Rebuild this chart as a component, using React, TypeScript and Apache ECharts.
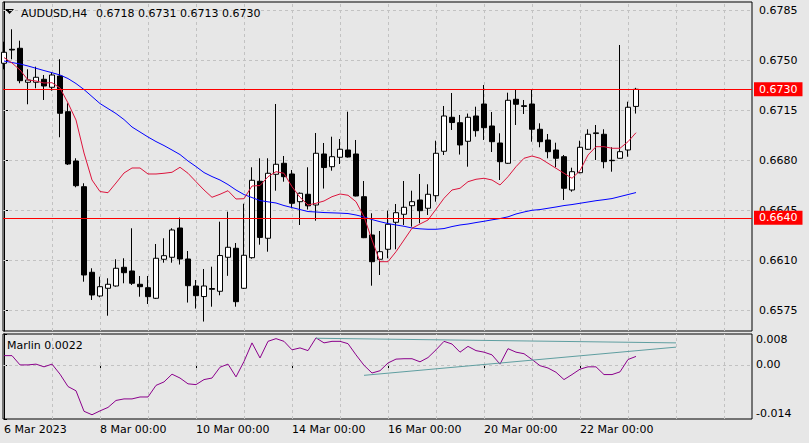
import React, { useEffect, useRef } from "react";
import * as echarts from "echarts";

// ---- data (AUDUSD H4, 6 Mar 2023 00:00 .. 23 Mar 2023 04:00), bar index = position ----
const opens = [
  0.67482, 0.6758, 0.67587, 0.67349, 0.67349, 0.6737, 0.67314, 0.67393, 0.67143, 0.66798,
  0.66618, 0.66019, 0.65853, 0.65907, 0.65923, 0.66054, 0.66028, 0.65935, 0.65911, 0.65837,
  0.6611, 0.66124, 0.66329, 0.66112, 0.65923, 0.65849, 0.65905, 0.65886, 0.66124, 0.66187,
  0.65907, 0.66121, 0.66656, 0.66257, 0.66705, 0.66782, 0.66707, 0.66513, 0.66565, 0.6649,
  0.66847, 0.66758, 0.66824, 0.66875, 0.66847, 0.66548, 0.6628, 0.6611, 0.6618, 0.66369,
  0.66425, 0.66485, 0.66525, 0.66467, 0.66555, 0.66866, 0.67104, 0.67066, 0.66936, 0.67113,
  0.67197, 0.67043, 0.66924, 0.66782, 0.6723, 0.67185, 0.67197, 0.6702, 0.66945, 0.66875,
  0.66828, 0.66595, 0.66716, 0.6688, 0.6699, 0.66985, 0.66803, 0.66817, 0.66875, 0.6718,
];
const highs = [
  0.67633, 0.6772, 0.6764, 0.6744, 0.67458, 0.674, 0.67416, 0.6751, 0.67202, 0.66817,
  0.66642, 0.66047, 0.65988, 0.65977, 0.6611, 0.66117, 0.66327, 0.65993, 0.65993, 0.66217,
  0.66257, 0.66327, 0.66402, 0.66168, 0.65965, 0.66042, 0.66058, 0.66373, 0.66443, 0.66224,
  0.66499, 0.66754, 0.66817, 0.66817, 0.67197, 0.66833, 0.66735, 0.66578, 0.66754, 0.66994,
  0.66924, 0.66968, 0.66952, 0.67143, 0.66945, 0.66658, 0.66432, 0.66308, 0.6645, 0.66497,
  0.66658, 0.6659, 0.66707, 0.66635, 0.6694, 0.67183, 0.67274, 0.6712, 0.6713, 0.67178,
  0.6733, 0.67141, 0.66992, 0.67276, 0.67295, 0.67225, 0.673, 0.67062, 0.66987, 0.66926,
  0.6684, 0.66751, 0.6694, 0.6702, 0.6705, 0.6702, 0.66894, 0.6761, 0.67213, 0.6731,
];
const lows = [
  0.6744, 0.6751, 0.67342, 0.67195, 0.67307, 0.67225, 0.6729, 0.66964, 0.6677, 0.66614,
  0.65953, 0.65825, 0.65844, 0.65715, 0.65918, 0.65942, 0.6593, 0.65848, 0.65797, 0.65832,
  0.66086, 0.66086, 0.66073, 0.65807, 0.65765, 0.65674, 0.65778, 0.65858, 0.65994, 0.65778,
  0.65902, 0.66114, 0.66212, 0.66163, 0.6659, 0.66653, 0.66467, 0.6635, 0.66458, 0.6638,
  0.66605, 0.6673, 0.66777, 0.66822, 0.6655, 0.66258, 0.65925, 0.66, 0.66117, 0.6618,
  0.6635, 0.66338, 0.66362, 0.6642, 0.66513, 0.6684, 0.67015, 0.66843, 0.66758, 0.66968,
  0.66945, 0.66861, 0.66665, 0.66778, 0.6705, 0.67127, 0.66933, 0.66894, 0.66817, 0.66754,
  0.66525, 0.66583, 0.66712, 0.66875, 0.66805, 0.66747, 0.66723, 0.66815, 0.66828, 0.6713,
];
const closes = [
  0.67559, 0.67575, 0.6736, 0.67365, 0.67384, 0.67323, 0.674, 0.67132, 0.66777, 0.66625,
  0.66, 0.6586, 0.65918, 0.65935, 0.66047, 0.66016, 0.65942, 0.65918, 0.65848, 0.66117,
  0.66135, 0.66315, 0.66112, 0.65925, 0.65855, 0.65923, 0.659, 0.66136, 0.66194, 0.65813,
  0.66138, 0.66663, 0.66263, 0.66712, 0.66775, 0.66688, 0.66502, 0.66572, 0.66484, 0.66852,
  0.66752, 0.66828, 0.6688, 0.66826, 0.66553, 0.66261, 0.66093, 0.66163, 0.66355, 0.66436,
  0.66474, 0.66513, 0.6645, 0.66565, 0.66852, 0.67113, 0.67067, 0.6691, 0.67104, 0.6701,
  0.67031, 0.66933, 0.66793, 0.67223, 0.67195, 0.6718, 0.6702, 0.66933, 0.66863, 0.66817,
  0.66607, 0.66723, 0.66894, 0.66985, 0.66995, 0.66793, 0.668, 0.66863, 0.67174, 0.673,
];
const fastMA = [
  0.67522, 0.67484, 0.67435, 0.67365, 0.67358, 0.67344, 0.67346, 0.67309, 0.67204, 0.67085,
  0.66854, 0.66665, 0.66584, 0.66576, 0.66644, 0.66714, 0.66749, 0.66749, 0.66707, 0.66707,
  0.66712, 0.66719, 0.66754, 0.66712, 0.66653, 0.66595, 0.66544, 0.66565, 0.6659, 0.66532,
  0.66534, 0.66623, 0.66626, 0.66688, 0.66723, 0.66712, 0.66618, 0.66544, 0.6649, 0.66502,
  0.66518, 0.66548, 0.66567, 0.66558, 0.66513, 0.66408, 0.66245, 0.66093, 0.66093, 0.66163,
  0.66245, 0.66327, 0.66357, 0.66385, 0.6646, 0.66537, 0.66595, 0.66607, 0.66653, 0.6667,
  0.66677, 0.66665, 0.6663, 0.66688, 0.66758, 0.66817, 0.66833, 0.66817, 0.66782, 0.66747,
  0.66712, 0.66677, 0.6673, 0.6684, 0.66898, 0.66898, 0.66887, 0.66887, 0.66933, 0.66996,
];
const slowMA = [
  0.67498, 0.67487, 0.67477, 0.67463, 0.67447, 0.67431, 0.67416, 0.674, 0.67375, 0.6734,
  0.67298, 0.67249, 0.672, 0.67165, 0.6713, 0.67088, 0.67036, 0.67001, 0.66966, 0.66934,
  0.66906, 0.66875, 0.66843, 0.66798, 0.66759, 0.66717, 0.66689, 0.66665, 0.66633, 0.66595,
  0.66563, 0.66542, 0.66521, 0.66512, 0.66504, 0.66486, 0.66472, 0.66458, 0.66444, 0.66441,
  0.66437, 0.66435, 0.66433, 0.6643, 0.6642, 0.66406, 0.66388, 0.66373, 0.6636, 0.6635,
  0.66341, 0.66329, 0.66323, 0.6632, 0.6632, 0.66325, 0.66339, 0.6635, 0.66357, 0.66367,
  0.66376, 0.66386, 0.66395, 0.66407, 0.66427, 0.66441, 0.66453, 0.66458, 0.66467, 0.66476,
  0.66486, 0.66493, 0.66502, 0.66511, 0.6652, 0.66527, 0.66535, 0.66549, 0.66563, 0.66577,
];
const marlin = [
  0.0024, 0.0024, 0.0, 0.0, 0.0002, -0.0005, 0.0002, -0.0024, -0.0056, -0.0067,
  -0.012, -0.0129, -0.0119, -0.011, -0.0092, -0.0088, -0.0088, -0.0083, -0.0083, -0.0053,
  -0.0044, -0.0024, -0.0034, -0.0049, -0.0051, -0.0038, -0.0034, -0.0006, 0.0002, -0.0031,
  0.0009, 0.0057, 0.0018, 0.0061, 0.0068, 0.0061, 0.0039, 0.0044, 0.0037, 0.007,
  0.0057, 0.0061, 0.0061, 0.0055, 0.0026, -0.0001, -0.0021, -0.0015, 0.0005, 0.0015,
  0.0016, 0.0016, 0.0008, 0.0019, 0.0039, 0.0061, 0.0054, 0.0033, 0.0048, 0.0037,
  0.0033, 0.0026, 0.0002, 0.0042, 0.0033, 0.0029, 0.0014, -0.0002, -0.0008, -0.0019,
  -0.0038, -0.0025, -0.0011, -0.0005, -0.0005, -0.0025, -0.0025, -0.0018, 0.0014, 0.0022,
];
const trendUpper = [
  [39, 0.0069],
  [84, 0.0057],
];
const trendLower = [
  [45, -0.0027],
  [84, 0.0046],
];
const levelLines = [0.673, 0.664];
const priceTicks = [0.6575, 0.661, 0.6645, 0.668, 0.6715, 0.675, 0.6785];
const marlinTicks = [-0.014, 0, 0.008];
const dateTickBars = [0, 12, 24, 36, 48, 60, 72];
const dateTickLabels = [
  "6 Mar 2023",
  "8 Mar 00:00",
  "10 Mar 00:00",
  "14 Mar 00:00",
  "16 Mar 00:00",
  "20 Mar 00:00",
  "22 Mar 00:00",
];
const gridBars = [6, 12, 18, 24, 30, 36, 42, 48, 54, 60, 66, 72, 78, 84, 90];
const symbolName = "AUDUSD,H4";
const indicatorName = "Marlin";

const FONT = "DejaVu Sans";
const GRID_COLOR = "#c2c2c2";
const DASH = [3, 3];

function buildOption() {
  const last = closes.length - 1;
  const header = [opens[last], highs[last], lows[last], closes[last]].map((v) => v.toFixed(4)).join(" ");
  const candles = opens.map((o, i) => [i, o, closes[i], lows[i], highs[i]]);
  const txt = { fontFamily: FONT, fontSize: 11, color: "#000", fontWeight: "normal" as const, lineHeight: 13 };
  const gridMark = (yVals: number[]) => ({
    silent: true,
    symbol: ["none", "none"],
    precision: 6,
    z: 1,
    animation: false,
    label: { show: false },
    lineStyle: { color: GRID_COLOR, type: DASH, width: 1 },
    data: [...yVals.map((v) => ({ yAxis: v })), ...gridBars.map((b) => ({ xAxis: b }))],
  });

  return {
    animation: false,
    backgroundColor: "#e7e7e7",
    title: [
      { text: symbolName, left: 21, top: 6.5, padding: 0, textStyle: txt },
      { text: header, left: 96, top: 6.5, padding: 0, textStyle: txt },
      { text: `${indicatorName} ${marlin[last].toFixed(4)}`, left: 7, top: 338.5, padding: 0, textStyle: txt },
    ],
    graphic: [
      {
        type: "polygon",
        shape: { points: [[5, 9], [14, 9], [9.5, 14]] },
        style: { fill: "#000" },
        silent: true,
      },
    ],
    grid: [
      { left: 3, top: 2, width: 749, height: 329, show: true, borderColor: "#000", borderWidth: 1, backgroundColor: "transparent" },
      { left: 3, top: 334, width: 749, height: 85, show: true, borderColor: "#000", borderWidth: 1, backgroundColor: "transparent" },
    ],
    xAxis: [
      { type: "value", gridIndex: 0, min: -0.125, max: 93.5, show: false },
      {
        type: "value",
        gridIndex: 1,
        min: -0.125,
        max: 93.5,
        axisLine: { show: false },
        splitLine: { show: false },
        axisTick: { show: true, customValues: dateTickBars, length: 4, lineStyle: { color: "#000" } },
        axisLabel: {
          customValues: dateTickBars,
          formatter: (v: number) => {
            const k = dateTickBars.indexOf(Math.round(v));
            return k >= 0 ? dateTickLabels[k] : "";
          },
          align: "left",
          margin: 5,
          color: "#000",
          fontFamily: FONT,
          fontSize: 11,
        },
      },
    ],
    yAxis: [
      {
        type: "value",
        gridIndex: 0,
        position: "right",
        min: 0.656079,
        max: 0.679109,
        axisLine: { show: true, lineStyle: { color: "#000" } },
        axisTick: { show: true, customValues: priceTicks, length: 4, lineStyle: { color: "#000" } },
        axisLabel: {
          customValues: priceTicks,
          formatter: (v: number) => v.toFixed(4),
          margin: 7,
          color: "#000",
          fontFamily: FONT,
          fontSize: 11,
        },
        splitLine: { show: false },
      },
      {
        type: "value",
        gridIndex: 1,
        position: "right",
        min: -0.014,
        max: 0.008,
        axisLine: { show: true, lineStyle: { color: "#000" } },
        axisTick: { show: true, customValues: marlinTicks, length: 3, lineStyle: { color: "#000" } },
        axisLabel: {
          customValues: marlinTicks,
          formatter: (v: number) => (Math.abs(v) < 1e-9 ? "0.00" : v.toFixed(3)),
          margin: 4,
          color: "#000",
          fontFamily: FONT,
          fontSize: 11,
          verticalAlignMinLabel: "bottom",
          verticalAlignMaxLabel: "top",
        },
        splitLine: { show: false },
      },
    ],
    series: [
      {
        name: "grid-main",
        type: "line",
        xAxisIndex: 0,
        yAxisIndex: 0,
        data: [[0, priceTicks[3]]],
        showSymbol: false,
        symbol: "none",
        lineStyle: { opacity: 0 },
        z: 1,
        silent: true,
        markLine: gridMark(priceTicks),
      },
      {
        name: "grid-ind",
        type: "line",
        xAxisIndex: 1,
        yAxisIndex: 1,
        data: [[0, 0]],
        showSymbol: false,
        symbol: "none",
        lineStyle: { opacity: 0 },
        z: 1,
        silent: true,
        markLine: gridMark([0]),
      },
      {
        name: "AUDUSD",
        type: "candlestick",
        xAxisIndex: 0,
        yAxisIndex: 0,
        data: candles,
        barWidth: 5,
        z: 2,
        silent: true,
        itemStyle: { color: "#ffffff", color0: "#000000", borderColor: "#000000", borderColor0: "#000000", borderWidth: 1 },
        markLine: {
          silent: true,
          symbol: ["none", "none"],
          precision: 6,
          z: 6,
          animation: false,
          lineStyle: { color: "#ff0000", type: "solid", width: 1 },
          label: {
            show: true,
            position: "end",
            distance: 2,
            formatter: (p: any) => Number(p.value).toFixed(4),
            backgroundColor: "#ff0000",
            color: "#ffffff",
            padding: [1, 5, 1, 5],
            fontFamily: FONT,
            fontSize: 11,
            lineHeight: 12,
          },
          data: levelLines.map((v) => ({ yAxis: v })),
        },
      },
      {
        name: "slowMA",
        type: "line",
        xAxisIndex: 0,
        yAxisIndex: 0,
        data: slowMA.map((v, i) => [i, v]),
        symbol: "none",
        z: 3,
        silent: true,
        lineStyle: { color: "#0000ff", width: 1 },
      },
      {
        name: "fastMA",
        type: "line",
        xAxisIndex: 0,
        yAxisIndex: 0,
        data: fastMA.map((v, i) => [i, v]),
        symbol: "none",
        z: 3,
        silent: true,
        lineStyle: { color: "#dc143c", width: 1 },
      },
      {
        name: "Marlin",
        type: "line",
        xAxisIndex: 1,
        yAxisIndex: 1,
        data: marlin.map((v, i) => [i, v]),
        symbol: "none",
        z: 3,
        silent: true,
        lineStyle: { color: "#8b008b", width: 1 },
      },
      {
        name: "trendUpper",
        type: "line",
        xAxisIndex: 1,
        yAxisIndex: 1,
        data: trendUpper,
        symbol: "none",
        z: 3,
        silent: true,
        lineStyle: { color: "#5f9ea0", width: 1 },
      },
      {
        name: "trendLower",
        type: "line",
        xAxisIndex: 1,
        yAxisIndex: 1,
        data: trendLower,
        symbol: "none",
        z: 3,
        silent: true,
        lineStyle: { color: "#5f9ea0", width: 1 },
      },
    ],
  };
}

export default function App() {
  const ref = useRef<HTMLDivElement>(null);
  useEffect(() => {
    if (!ref.current) return;
    const chart = echarts.init(ref.current, null, { renderer: "svg" });
    chart.setOption(buildOption() as any);
    return () => chart.dispose();
  }, []);
  return <div ref={ref} style={{ position: "fixed", left: 0, top: 0, width: 809, height: 443 }} />;
}
